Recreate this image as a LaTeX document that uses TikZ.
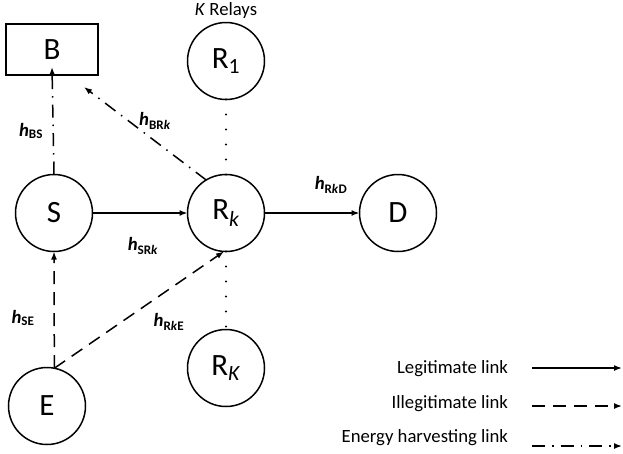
\documentclass[tikz,border=0pt]{standalone}
\usepackage{fontspec}
\setmainfont{Carlito}
\usetikzlibrary{arrows.meta}
\newcommand{\chan}[1]{\textbf{\textit{h}}\textsubscript{\textbf{#1}}}

\begin{document}
\begin{tikzpicture}[x=1pt,y=-1pt,inner sep=0pt,outer sep=0pt,line width=1.5pt,
  >={Latex[length=8pt,width=6pt]},
  station/.style={draw,circle,minimum size=77pt,font=\fontsize{31}{34}\selectfont},
  bsbox/.style={draw,rectangle,minimum width=92pt,minimum height=51pt,font=\fontsize{31}{34}\selectfont},
  lbl/.style={font=\fontsize{18.7}{21}\selectfont},
  illegit/.style={dash pattern=on 13pt off 8pt},
  harvest/.style={dash pattern=on 13pt off 7pt on 1.5pt off 7pt},
  relaydots/.style={line width=2.4pt,line cap=round,dash pattern=on 0pt off 15pt}]
\useasboundingbox (0,0) rectangle (623,453);
\draw (52,49.5) node[bsbox] (B) {B};
\draw (226,61) node[station] (R1) {R\textsubscript{1}};
\draw (54,213) node[station] (S) {S};
\draw (226,213) node[station] (Rk) {R\textsubscript{\textit{k}}};
\draw (398,213) node[station] (D) {D};
\draw (47,406) node[station] (E) {E};
\draw (226,368) node[station] (RK) {R\textsubscript{\textit{K}}};
\draw (226,11) node[lbl] (relays) {\textit{K} Relays};
% links
\draw[->] (S) -- (Rk);
\draw[->] (Rk) -- (D);
\draw[->,harvest] (S.north) -- ([yshift=8pt]B.south);
\coordinate (bTip) at (84,87);
\draw[->,harvest] (Rk.121) -- (bTip);
\draw[->,illegit] (E.79) -- (S.south);
\draw[->,illegit] (E.79) -- (Rk.-93);
\draw[relaydots] (R1.south) -- (Rk.north);
\draw[relaydots] (Rk.south) -- (RK.north);
% channel labels
\draw (31,131) node[lbl] (hBS) {\chan{BS}};
\draw (155,121) node[lbl] (hBRk) {\chan{BR\textit{k}}};
\draw (143,246) node[lbl] (hSRk) {\chan{SR\textit{k}}};
\draw (23,318) node[lbl] (hSE) {\chan{SE}};
\draw (169,322) node[lbl] (hRkE) {\chan{R\textit{k}E}};
\draw (331,185) node[lbl] (hRkD) {\chan{R\textit{k}D}};
% legend
\draw (508,369) node[lbl,anchor=east] (legLegit) {Legitimate link};
\draw (508,404) node[lbl,anchor=east] (legIllegit) {Illegitimate link};
\draw (508,438) node[lbl,anchor=east] (legHarvest) {Energy harvesting link};
\draw[->] (532,368) -- (622,368);
\draw[->,illegit] (532,406) -- (622,406);
\draw[->,harvest] (532,446) -- (622,446);
\end{tikzpicture}
\end{document}
